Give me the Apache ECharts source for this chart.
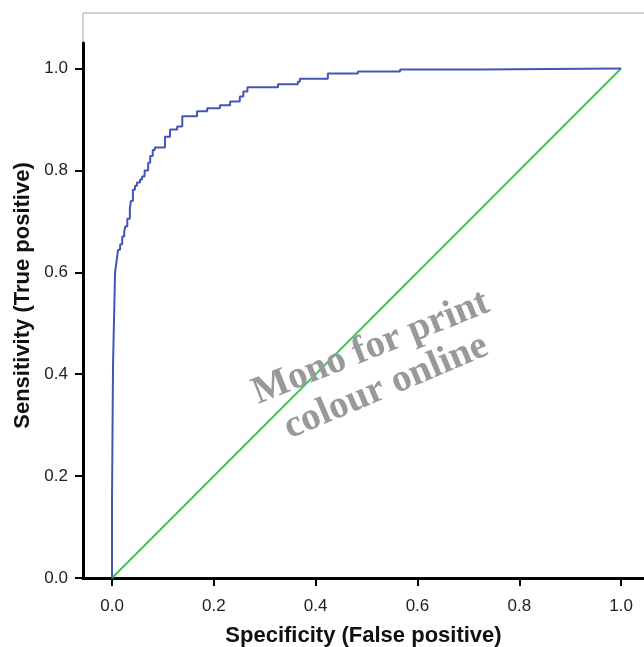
<!DOCTYPE html>
<html>
<head>
<meta charset="utf-8">
<script src="https://cdn.jsdelivr.net/npm/echarts@6/dist/echarts.min.js"></script>
<style>
html,body{margin:0;padding:0;background:#fff;}
#chart{width:644px;height:647px;}
</style>
</head>
<body>
<div id="chart"></div>
<script>
// ROC curve (false positive rate, true positive rate)
const rocFpr = [0, 0, 0.002, 0.004, 0.006, 0.008, 0.010, 0.012, 0.016, 0.020, 0.024, 0.026, 0.030, 0.035, 0.037, 0.041, 0.045, 0.049, 0.055, 0.059, 0.064, 0.071, 0.075, 0.080, 0.084, 0.098, 0.104, 0.114, 0.128, 0.138, 0.153, 0.167, 0.187, 0.212, 0.232, 0.251, 0.258, 0.266, 0.314, 0.326, 0.365, 0.369, 0.415, 0.424, 0.472, 0.483, 0.562, 0.566, 0.719, 0.723, 1.0];
const rocTpr = [0, 0.153, 0.420, 0.510, 0.600, 0.615, 0.630, 0.644, 0.655, 0.670, 0.680, 0.690, 0.705, 0.723, 0.740, 0.762, 0.770, 0.776, 0.782, 0.788, 0.800, 0.815, 0.828, 0.840, 0.845, 0.845, 0.866, 0.880, 0.886, 0.906, 0.906, 0.916, 0.922, 0.928, 0.935, 0.945, 0.955, 0.963, 0.963, 0.969, 0.974, 0.980, 0.980, 0.990, 0.990, 0.994, 0.994, 0.998, 0.998, 1.0, 1.0];
// Reference (chance) diagonal
const diagX = [0, 1];
const diagY = [0, 1];
// Tick values
const xTicks = [0, 0.2, 0.4, 0.6, 0.8, 1.0];
const yTicks = [0, 0.2, 0.4, 0.6, 0.8, 1.0];
const xTitle = 'Specificity (False positive)';
const yTitle = 'Sensitivity (True positive)';
const watermark = ['Mono for print', 'colour online'];

const rocData = rocFpr.map((x, i) => [x, rocTpr[i]]);
const diagData = diagX.map((x, i) => [x, diagY[i]]);

const chart = echarts.init(document.getElementById('chart'), null, {renderer: 'canvas'});
const labelStyle = {color: '#222', fontSize: 17, fontFamily: 'Liberation Sans, Arial, sans-serif'};
const titleStyle = {color: '#111', fontSize: 22, fontWeight: 'bold', fontFamily: 'Liberation Sans, Arial, sans-serif'};

chart.setOption({
  animation: false,
  backgroundColor: '#fff',
  grid: [
    {left: 83, top: 13, right: -1, bottom: 69, show: true, borderColor: '#a8a8a8', borderWidth: 1, backgroundColor: 'transparent', containLabel: false, outerBoundsMode: 'none'},
    {left: 83, top: 43, right: 0, bottom: 69, containLabel: false, outerBoundsMode: 'none'}
  ],
  xAxis: [
    {gridIndex: 0, type: 'value', min: 0, max: 1, show: false},
    {
      gridIndex: 1, type: 'value', min: -0.057, max: 1.045,
      axisLine: {show: true, onZero: false, lineStyle: {color: '#000', width: 3}},
      axisTick: {show: true, length: 8, customValues: xTicks, lineStyle: {color: '#000', width: 2}},
      axisLabel: {show: true, margin: 20, customValues: xTicks, formatter: v => v.toFixed(1), ...labelStyle},
      splitLine: {show: false},
      name: xTitle, nameLocation: 'middle', nameGap: 47, nameTextStyle: titleStyle
    }
  ],
  yAxis: [
    {
      gridIndex: 0, type: 'value', min: 0, max: 1,
      axisLine: {show: false}, axisTick: {show: false}, axisLabel: {show: false}, splitLine: {show: false},
      name: yTitle, nameLocation: 'middle', nameGap: 49, nameTextStyle: titleStyle
    },
    {
      gridIndex: 1, type: 'value', min: 0, max: 1.05,
      axisLine: {show: true, onZero: false, lineStyle: {color: '#000', width: 3}},
      axisTick: {show: true, length: 8, customValues: yTicks, lineStyle: {color: '#000', width: 2}},
      axisLabel: {show: true, margin: 15, customValues: yTicks, formatter: v => v.toFixed(1), ...labelStyle},
      splitLine: {show: false}
    }
  ],
  series: [
    {
      type: 'line', xAxisIndex: 1, yAxisIndex: 1, data: diagData,
      symbol: 'none', lineStyle: {color: '#4cbf5c', width: 2}, z: 2
    },
    {
      type: 'line', xAxisIndex: 1, yAxisIndex: 1, data: rocData, step: 'end',
      symbol: 'none', lineStyle: {color: '#4356b8', width: 2}, z: 3
    }
  ],
  graphic: [
    {type: 'text', x: 371, y: 348, rotation: 0.38, z: 10,
     style: {text: watermark[0], fill: '#999999', font: 'bold 39px "Liberation Serif", "Times New Roman", serif', textAlign: 'center', textVerticalAlign: 'middle'}},
    {type: 'text', x: 386, y: 387, rotation: 0.4, z: 10,
     style: {text: watermark[1], fill: '#999999', font: 'bold 39px "Liberation Serif", "Times New Roman", serif', textAlign: 'center', textVerticalAlign: 'middle'}}
  ]
});
</script>
</body>
</html>
